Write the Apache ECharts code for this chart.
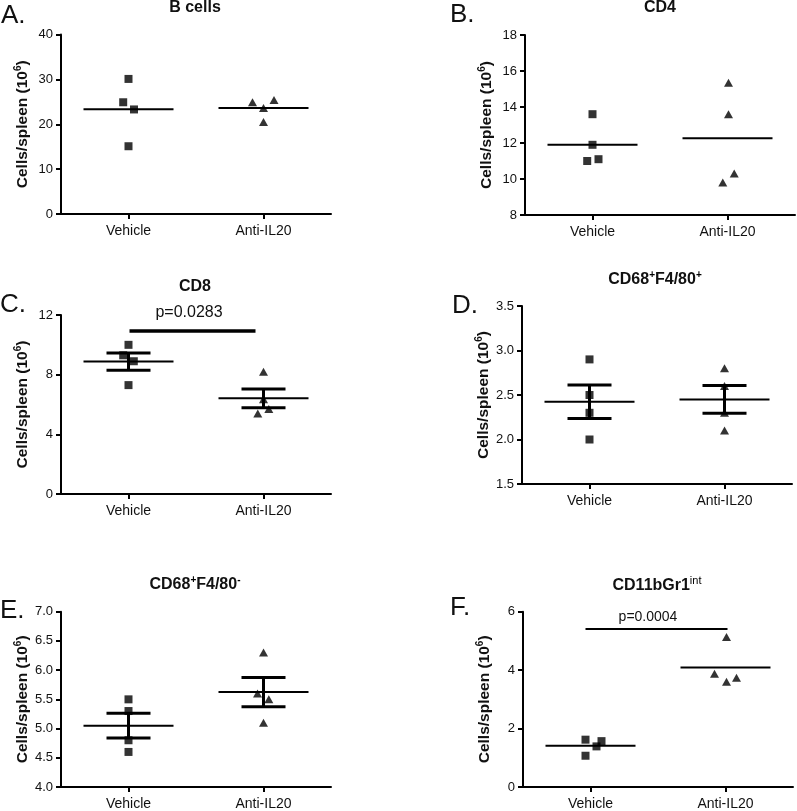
<!DOCTYPE html>
<html>
<head>
<meta charset="utf-8">
<script src="https://cdn.jsdelivr.net/npm/echarts@6/dist/echarts.min.js"></script>
<style>
html,body{margin:0;padding:0;background:#fff;}
#chart{width:797px;height:811px;}
</style>
</head>
<body>
<div id="chart"></div>
<script>
// ---------------- DATA ----------------
const categories = ['Vehicle', 'Anti-IL20'];

const bCellsVehicle = [30.1, 24.9, 23.3, 15.1];
const bCellsAnti    = [24.9, 25.4, 23.6, 20.5];

const cd4Vehicle = [13.6, 11.9, 11.0, 11.1];
const cd4Anti    = [15.35, 13.6, 10.3, 9.8];

const cd8Vehicle = [10.0, 9.3, 8.9, 7.3];
const cd8Anti    = [8.2, 6.35, 5.7, 5.4];

const f480PosVehicle = [2.9, 2.5, 2.3, 2.0];
const f480PosAnti    = [2.8, 2.6, 2.3, 2.1];

const f480NegVehicle = [5.5, 5.3, 4.8, 4.6];
const f480NegAnti    = [6.3, 5.6, 5.5, 5.1];

const gr1Vehicle = [1.62, 1.57, 1.39, 1.07];
const gr1Anti    = [5.13, 3.88, 3.6, 3.74];

// y-axis ticks: [min, max, interval]
const ticksA = [0, 40, 10];
const ticksB = [8, 18, 2];
const ticksC = [0, 12, 4];
const ticksD = [1.5, 3.5, 0.5];
const ticksE = [4.0, 7.0, 0.5];
const ticksF = [0, 6, 2];

const pLabelC = 'p=0.0283';
const pLevelC = 10.93;
const pLabelF = 'p=0.0004';
const pLevelF = 5.41;

// ---------------- LAYOUT / STYLE ----------------
const FONT = '"Liberation Sans", Arial, Helvetica, sans-serif';
const panels = [
  {letter:'A.', title:'B cells', v:bCellsVehicle, a:bCellsAnti, ticks:ticksA, dec:0, sem:false,
   grid:{left:61, top:34.5, width:270, height:179.5}, titleXY:[195, 8], letterXY:[1, 16],
   jv:[0,-5.3,5.5,0], ja:[-11,10.5,0,0]},
  {letter:'B.', title:'CD4', v:cd4Vehicle, a:cd4Anti, ticks:ticksB, dec:0, sem:false,
   grid:{left:525, top:35, width:270, height:180}, titleXY:[660, 8], letterXY:[450, 15],
   jv:[0,0,-5.3,6], ja:[1,1,6.7,-4.7]},
  {letter:'C.', title:'CD8', v:cd8Vehicle, a:cd8Anti, ticks:ticksC, dec:0, sem:true,
   grid:{left:61, top:315, width:270, height:179}, titleXY:[195, 287], letterXY:[0, 305],
   jv:[0,-5.3,5.3,0], ja:[0,0,5.3,-5.7],
   p:{label:pLabelC, level:pLevelC, w:3.5, font:16, gap:18, dx:-7, inset:[1,-8]}},
  {letter:'D.', title:'CD68{sup|+}F4/80{sup|+}', v:f480PosVehicle, a:f480PosAnti, ticks:ticksD, dec:1, sem:true,
   grid:{left:522, top:306, width:270, height:178}, titleXY:[655, 280], letterXY:[452, 306],
   jv:[0,0,0,0], ja:[0,0,0,0]},
  {letter:'E.', title:'CD68{sup|+}F4/80{sup|-}', v:f480NegVehicle, a:f480NegAnti, ticks:ticksE, dec:1, sem:true,
   grid:{left:61, top:611.7, width:270, height:179}, titleXY:[195, 585], letterXY:[0, 611],
   jv:[0,0,0,0], ja:[0,-6,5.3,0]},
  {letter:'F.', title:'CD11bGr1{supr|int}', v:gr1Vehicle, a:gr1Anti, ticks:ticksF, dec:0, sem:false,
   grid:{left:523, top:611.7, width:270, height:179.3}, titleXY:[657, 586], letterXY:[450, 608],
   jv:[-5,11,6,-5], ja:[1,-11,1,11],
   p:{label:pLabelF, level:pLevelF, w:2, font:14, gap:12, dx:-10, inset:[-5,2]}}
];

function mean(arr){ return arr.reduce((s,x)=>s+x,0)/arr.length; }
function sem(arr){
  const m = mean(arr);
  const sd = Math.sqrt(arr.reduce((s,x)=>s+(x-m)*(x-m),0)/(arr.length-1));
  return sd/Math.sqrt(arr.length);
}

const grids = [], xAxes = [], yAxes = [], series = [], graphics = [];
const titleRich = {
  sup:{fontSize:10, fontWeight:'bold', fontFamily:FONT, fill:'#000', color:'#000', padding:[0,0,9,0]},
  supr:{fontSize:11, fontWeight:'normal', fontFamily:FONT, fill:'#000', color:'#000', padding:[0,0,10,0]}
};

panels.forEach((p, i) => {
  grids.push(Object.assign({containLabel:false}, p.grid));
  xAxes.push({
    gridIndex:i, type:'category', data:categories, boundaryGap:true,
    axisLine:{show:true, lineStyle:{color:'#000', width:2}},
    axisTick:{show:true, alignWithLabel:true, length:5, lineStyle:{color:'#000', width:2}},
    axisLabel:{color:'#111', fontSize:14, fontFamily:FONT, margin:10},
    splitLine:{show:false}
  });
  yAxes.push({
    gridIndex:i, type:'value', min:p.ticks[0], max:p.ticks[1], interval:p.ticks[2],
    axisLine:{show:true, lineStyle:{color:'#000', width:2}},
    axisTick:{show:true, length:5, lineStyle:{color:'#000', width:2}},
    axisLabel:{color:'#111', fontSize:13, fontFamily:FONT, margin:8,
      formatter:(v)=> v.toFixed(p.dec)},
    splitLine:{show:false},
    name:'Cells/spleen (10{s|6})', nameLocation:'middle', nameGap:29, nameRotate:90,
    nameTextStyle:{color:'#111', fontSize:15.5, fontWeight:'bold', fontFamily:FONT,
      rich:{s:{fontSize:10, fontWeight:'bold', fontFamily:FONT, color:'#111', padding:[0,0,9,0]}}}
  });

  // points
  series.push({
    type:'scatter', xAxisIndex:i, yAxisIndex:i, symbol:'rect', symbolSize:8,
    itemStyle:{color:'#000'}, z:3, silent:true,
    data:p.v.map((val,k)=>({value:[0,val], symbolOffset:[p.jv[k],0]}))
  });
  series.push({
    type:'scatter', xAxisIndex:i, yAxisIndex:i, symbol:'triangle', symbolSize:[9,8],
    itemStyle:{color:'#000'}, z:3, silent:true,
    data:p.a.map((val,k)=>({value:[1,val], symbolOffset:[p.ja[k],0]}))
  });

  // mean lines
  series.push({
    type:'custom', xAxisIndex:i, yAxisIndex:i, z:4, silent:true,
    data:[[0, mean(p.v)], [1, mean(p.a)]],
    renderItem:(params, api) => {
      const c = api.coord([api.value(0), api.value(1)]);
      return {type:'line', shape:{x1:c[0]-45, y1:c[1], x2:c[0]+45, y2:c[1]},
        style:{stroke:'#000', lineWidth:2}};
    }
  });

  // SEM bars
  if (p.sem) {
    series.push({
      type:'custom', xAxisIndex:i, yAxisIndex:i, z:4, silent:true,
      data:[[0, mean(p.v), sem(p.v)], [1, mean(p.a), sem(p.a)]],
      renderItem:(params, api) => {
        const m = api.value(1), s = api.value(2);
        const hi = api.coord([api.value(0), m + s]);
        const lo = api.coord([api.value(0), m - s]);
        const st = {stroke:'#000', lineWidth:3};
        return {type:'group', children:[
          {type:'line', shape:{x1:hi[0]-22, y1:hi[1], x2:hi[0]+22, y2:hi[1]}, style:st},
          {type:'line', shape:{x1:lo[0]-22, y1:lo[1], x2:lo[0]+22, y2:lo[1]}, style:st},
          {type:'line', shape:{x1:hi[0], y1:hi[1], x2:lo[0], y2:lo[1]}, style:st}
        ]};
      }
    });
  }

  // p-value bracket
  if (p.p) {
    const pp = p.p;
    series.push({
      type:'custom', xAxisIndex:i, yAxisIndex:i, z:4, silent:true,
      data:[[0, pp.level]],
      renderItem:(params, api) => {
        const a = api.coord([0, api.value(1)]);
        const b = api.coord([1, api.value(1)]);
        return {type:'group', children:[
          {type:'line', shape:{x1:a[0]+pp.inset[0], y1:a[1], x2:b[0]+pp.inset[1], y2:b[1]},
            style:{stroke:'#000', lineWidth:pp.w}},
          {type:'text', x:(a[0]+b[0])/2 + pp.dx, y:a[1]-pp.gap,
            style:{text:pp.label, fill:'#111', font:pp.font + 'px ' + FONT,
              align:'center', verticalAlign:'middle'}}
        ]};
      }
    });
  }

  graphics.push({
    type:'text', x:p.titleXY[0], y:p.titleXY[1],
    style:{text:p.title, fill:'#111', font:'bold 16px ' + FONT,
      align:'center', verticalAlign:'middle', rich:titleRich}
  });
  graphics.push({
    type:'text', x:p.letterXY[0], y:p.letterXY[1],
    style:{text:p.letter, fill:'#111', font:'26px ' + FONT,
      align:'left', verticalAlign:'middle'}
  });
});

const chart = echarts.init(document.getElementById('chart'), null, {renderer:'canvas'});
chart.setOption({
  animation:false,
  backgroundColor:'#fff',
  grid:grids, xAxis:xAxes, yAxis:yAxes, series:series, graphic:graphics
});
</script>
</body>
</html>
